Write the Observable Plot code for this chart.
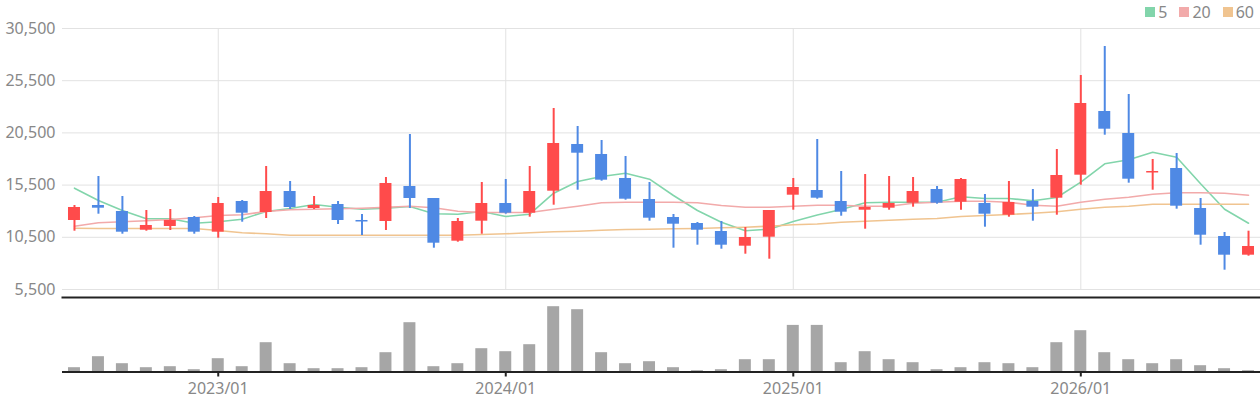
<!DOCTYPE html>
<html>
<head>
<meta charset="utf-8">
<script src="https://cdn.jsdelivr.net/npm/d3@7"></script>
<script src="https://cdn.jsdelivr.net/npm/@observablehq/plot@0.6"></script>
<style>
  html, body { margin: 0; padding: 0; background: #fff; }
  #wrap { position: relative; width: 1260px; height: 400px; font-family: "Noto Sans", sans-serif; background: #fff; }
  #legend { position: absolute; top: 1px; right: 6px; display: flex; align-items: center; gap: 0; font-size: 16px; color: #888; z-index: 2; }
  #legend .item { display: flex; align-items: center; margin-left: 12px; }
  #legend .sw { width: 10px; height: 10px; margin-right: 3px; }
  #charts svg { display: block; overflow: visible; }
  #charts svg.price { position: relative; z-index: 1; }
</style>
</head>
<body>
<div id="wrap">
  <div id="legend"></div>
  <div id="charts"></div>
</div>
<script>
const months = ["2022/07","2022/08","2022/09","2022/10","2022/11","2022/12",
  "2023/01","2023/02","2023/03","2023/04","2023/05","2023/06","2023/07","2023/08","2023/09","2023/10","2023/11","2023/12",
  "2024/01","2024/02","2024/03","2024/04","2024/05","2024/06","2024/07","2024/08","2024/09","2024/10","2024/11","2024/12",
  "2025/01","2025/02","2025/03","2025/04","2025/05","2025/06","2025/07","2025/08","2025/09","2025/10","2025/11","2025/12",
  "2026/01","2026/02","2026/03","2026/04","2026/05","2026/06","2026/07","2026/08"];

const open  = [12110,13546,12972,11180,11535,12397,10989,13930,12876,14887,13259,13642,12110,12014,15366,14217,10127,12043,13738,12809,14916,19390,18432,16133,14121,12397,11822,11056,9648,10510,14533,14983,13930,13096,13288,13767,15079,13862,13738,12617,13930,14246,16449,22551,20443,16659,17090,13259,10577,8786];
const close = [13355,13288,10989,11631,12110,10989,13738,12809,14887,13355,13546,12110,11966,15654,14217,9935,12014,13738,12809,14887,19485,18556,15970,14150,12330,11755,11180,9744,10481,13067,15271,14246,12905,13355,13738,14887,13767,16037,12713,13834,13384,16420,23317,20855,16066,16803,13479,10701,8786,9619];
const high  = [13546,16324,14408,13067,13163,12493,14313,14025,17282,15845,14408,13930,12684,16228,20347,14217,12301,15750,16037,17282,22838,21114,19773,18240,15750,12684,11918,12014,11439,13067,16133,19869,16803,16516,16324,16228,15366,16133,14600,15845,15079,18911,25999,28777,24179,17953,18528,14217,10960,11085];
const low   = [11085,12713,10797,11085,11152,10797,10414,11947,12301,13163,13163,11726,10673,11152,13259,9456,10031,10797,12713,12426,13575,15012,15874,14054,12043,9456,9744,9360,8881,8402,13096,14150,12521,11276,13096,13384,13671,13096,11468,12426,12043,12617,15491,20280,15683,15012,13192,9744,7349,8690];

const ma5  = [15204,14025,13067,12272,12272,11851,11985,12234,12972,13259,13642,13384,13192,13288,13451,12751,12713,12972,12493,12713,14725,15845,16324,16640,16066,14504,13067,11947,11123,11276,12014,12636,13163,13805,13862,13862,13862,14380,14217,14217,13997,14313,15778,17541,17924,18652,18173,15625,13192,11851];
const ma20 = [11564,11889,11985,12081,12205,12368,12588,12656,12972,13135,13192,13230,13288,13384,13479,13326,13000,12876,12876,12876,13192,13479,13805,13862,13862,13862,13805,13546,13384,13384,13479,13575,13575,13479,13479,13767,13862,13958,13958,13862,13575,13479,13862,14150,14341,14629,14763,14763,14725,14533];
const ma60 = [11372,11343,11343,11343,11343,11343,11152,10931,10836,10701,10701,10701,10701,10701,10701,10701,10701,10768,10836,10931,11027,11085,11180,11247,11276,11315,11343,11410,11468,11564,11698,11774,11947,12043,12138,12234,12301,12493,12588,12684,12809,12943,13192,13384,13479,13671,13671,13671,13671,13671];

const volume = [86000,306000,166000,86000,106000,46000,266000,106000,586000,166000,66000,66000,86000,386000,986000,106000,166000,466000,406000,546000,1306000,1246000,386000,166000,206000,86000,26000,46000,246000,246000,932000,932000,186000,406000,246000,186000,46000,86000,186000,166000,86000,586000,826000,386000,246000,166000,246000,126000,66000,26000];

const yTicks = [5500, 10500, 15500, 20500, 25500, 30500];
const janTicks = ["2023/01", "2024/01", "2025/01", "2026/01"];
const maNames = ["5", "20", "60"];
const maColors = ["#82d5ab", "#f2aaaa", "#f0c490"];
const upColor = "#ff4b4b", downColor = "#4f89e4";

const candles = months.map((m, i) => ({month: m, open: open[i], close: close[i], high: high[i], low: low[i], volume: volume[i]}));
const maSeries = [ma5, ma20, ma60];
const maData = maSeries.flatMap((arr, k) => arr.map((v, i) => ({month: months[i], value: v, name: maNames[k]})));
const candleColor = d => d.close >= d.open ? upColor : downColor;

const xScale = {type: "band", domain: months, paddingInner: 0.5, paddingOuter: 0.25, axis: null};
const font = {fontFamily: "Noto Sans, sans-serif", fontSize: "16px", color: "#888", background: "transparent", overflow: "visible"};

const price = Plot.plot({
  className: "price",
  width: 1260, height: 296,
  marginLeft: 62, marginRight: 0, marginTop: 28, marginBottom: 7,
  style: font,
  x: xScale,
  y: {domain: [5500, 30500], axis: null},
  color: {domain: maNames, range: maColors},
  marks: [
    Plot.gridY(yTicks, {stroke: "#e2e2e2", strokeOpacity: 1}),
    Plot.gridX(janTicks, {stroke: "#e2e2e2", strokeOpacity: 1}),
    Plot.axisY(yTicks, {tickSize: 0, tickPadding: 7, tickFormat: d3.format(","), fill: "#888", label: null}),
    Plot.line(maData, {x: "month", y: "value", z: "name", stroke: "name", strokeWidth: 1.6, curve: "linear"}),
    Plot.ruleX(candles, {x: "month", y1: "low", y2: "high", stroke: candleColor, strokeWidth: 2}),
    Plot.barY(candles, {x: "month", y1: "open", y2: "close", fill: candleColor})
  ]
});

const vol = Plot.plot({
  width: 1260, height: 104,
  marginLeft: 62, marginRight: 0, marginTop: 1, marginBottom: 28.5,
  style: font,
  x: xScale,
  y: {domain: [0, 1490000], axis: null},
  marks: [
    Plot.barY(candles, {x: "month", y: "volume", fill: "#a6a6a6"}),
    Plot.ruleY([0], {stroke: "#222", strokeWidth: 2}),
    Plot.frame({anchor: "top", stroke: "#222", strokeWidth: 2}),
    Plot.axisX(janTicks, {tickSize: 5, tickPadding: 6, stroke: "#222", strokeWidth: 2, fill: "#888", label: null})
  ]
});

document.getElementById("charts").append(price, vol);

const legend = document.getElementById("legend");
maNames.forEach((n, k) => {
  const item = document.createElement("div");
  item.className = "item";
  const sw = document.createElement("span");
  sw.className = "sw";
  sw.style.background = maColors[k];
  const t = document.createElement("span");
  t.textContent = n;
  item.append(sw, t);
  legend.append(item);
});
</script>
</body>
</html>
